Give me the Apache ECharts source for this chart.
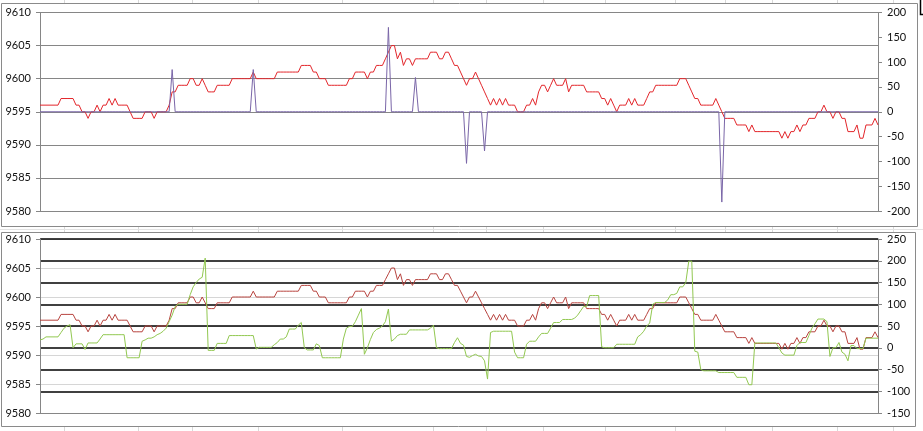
<!DOCTYPE html>
<html>
<head>
<meta charset="utf-8">
<script src="https://cdn.jsdelivr.net/npm/echarts@6/dist/echarts.min.js"></script>
<style>
html,body{margin:0;padding:0;background:#fff;}
#chart{width:923px;height:431px;}
</style>
</head>
<body>
<div id="chart"></div>
<script>
// ---- data ----
const price = [
9596,9596,9596,9596,9596,9596,9596,9597,9597,9597,
9597,9597,9596,9596,9595,9595,9594,9595,9595,9596,
9595,9596,9596,9597,9596,9597,9596,9596,9596,9596,
9595,9594,9594,9594,9594,9595,9595,9595,9594,9595,
9595,9595,9595,9596,9598,9598,9599,9599,9599,9599,
9600,9600,9599,9599,9600,9599,9598,9598,9598,9599,
9599,9599,9599,9599,9600,9600,9600,9600,9600,9600,
9600,9601,9600,9600,9600,9600,9600,9600,9600,9601,
9601,9601,9601,9601,9601,9601,9601,9602,9602,9602,
9602,9601,9601,9600,9600,9600,9599,9599,9599,9599,
9599,9599,9599,9600,9600,9601,9601,9601,9601,9600,
9601,9601,9602,9602,9602,9603,9604,9605,9605,9603,
9604,9602,9603,9603,9602,9603,9603,9603,9603,9603,
9604,9604,9604,9603,9603,9604,9604,9603,9602,9602,
9601,9600,9599,9600,9600,9601,9600,9599,9598,9597,
9596,9597,9596,9597,9596,9597,9596,9596,9596,9595,
9595,9595,9596,9596,9597,9596,9598,9599,9599,9598,
9599,9600,9599,9599,9599,9600,9598,9599,9599,9599,
9599,9599,9598,9598,9598,9598,9598,9597,9597,9596,
9597,9596,9595,9596,9596,9596,9597,9596,9597,9596,
9596,9596,9597,9598,9598,9599,9599,9599,9599,9599,
9599,9599,9599,9600,9600,9600,9599,9598,9597,9597,
9596,9596,9596,9596,9596,9597,9596,9595,9594,9594,
9594,9594,9593,9593,9593,9593,9592,9593,9592,9592,
9592,9592,9592,9592,9592,9592,9592,9591,9592,9591,
9592,9592,9593,9592,9593,9593,9594,9594,9594,9595,
9595,9596,9595,9595,9594,9595,9595,9594,9594,9592,
9592,9592,9593,9591,9591,9593,9593,9593,9594,9593
];
const spikes = [
0,0,0,0,0,0,0,0,0,0, 0,0,0,0,0,0,0,0,0,0,
0,0,0,0,0,0,0,0,0,0, 0,0,0,0,0,0,0,0,0,0,
0,0,0,0,85,0,0,0,0,0, 0,0,0,0,0,0,0,0,0,0,
0,0,0,0,0,0,0,0,0,0, 0,85,0,0,0,0,0,0,0,0,
0,0,0,0,0,0,0,0,0,0, 0,0,0,0,0,0,0,0,0,0,
0,0,0,0,0,0,0,0,0,0, 0,0,0,0,0,0,170,0,0,0,
0,0,0,0,0,69,0,0,0,0, 0,0,0,0,0,0,0,0,0,0,
0,0,-104,0,0,0,0,0,-79,0, 0,0,0,0,0,0,0,0,0,0,
0,0,0,0,0,0,0,0,0,0, 0,0,0,0,0,0,0,0,0,0,
0,0,0,0,0,0,0,0,0,0, 0,0,0,0,0,0,0,0,0,0,
0,0,0,0,0,0,0,0,0,0, 0,0,0,0,0,0,0,0,0,0,
0,0,0,0,0,0,0,-182,0,0, 0,0,0,0,0,0,0,0,0,0,
0,0,0,0,0,0,0,0,0,0, 0,0,0,0,0,0,0,0,0,0,
0,0,0,0,0,0,0,0,0,0, 0,0,0,0,0,0,0,0,0,0
];
const indicator = [
18,20,25,25,25,25,25,35,45,50,
53,0,9,9,9,-4,11,11,11,11,
20,30,30,30,30,30,30,30,30,-23,
-23,-23,-23,-23,15,18,22,22,25,30,
33,38,45,60,75,95,100,100,100,100,
122,140,150,158,162,206,-6,-6,-6,10,
10,10,10,28,28,28,28,28,28,28,
28,28,-3,1,1,1,1,1,7,12,
20,20,25,43,43,43,52,58,0,-5,
-5,-5,9,5,-23,-23,-23,-23,-23,-23,
-23,20,45,49,49,60,75,90,-15,0,
19,35,42,45,50,60,89,15,20,28,
31,31,31,41,41,41,41,41,41,41,
45,52,0,-2,-2,-2,-2,-2,12,23,
10,6,-20,-22,-18,-15,-19,-20,-30,-72,
35,38,38,38,38,38,38,38,-10,-23,
-23,-23,8,15,15,15,25,33,33,33,
45,58,58,58,65,65,65,65,68,75,
85,95,95,120,120,120,120,2,0,0,
0,0,8,8,8,8,8,8,8,25,
30,38,50,57,100,104,104,104,104,110,
122,122,125,140,140,150,199,199,-8,-10,
-50,-53,-53,-53,-53,-53,-57,-57,-57,-57,
-57,-57,-68,-68,-68,-68,-85,-85,11,11,
11,11,11,11,11,11,0,-12,-17,-17,
-17,-17,5,12,12,12,28,45,55,66,
66,66,60,-20,0,0,12,-10,-15,-30,
5,5,-2,-2,-2,22,22,22,22,22
];
const categories = price.map((_, i) => String(i + 1));
const leftTicks = { min: 9580, max: 9610, step: 5 };
const topRightTicks = { min: -200, max: 200, step: 50 };
const bottomRightTicks = { min: -150, max: 250, step: 50 };
const sheetColumns = [64,138,192,258,342,433,486,543,605,675,725,772,837,893];

// ---- chart ----
const chart = echarts.init(document.getElementById('chart'), null, {renderer:'canvas'});
const font = 'Lato, "Liberation Sans", sans-serif';
const axisGray = '#868686';
function xAx(g){
  return {type:'category', gridIndex:g, data:categories, boundaryGap:false,
    axisLine:{show:true,onZero:false,lineStyle:{color:axisGray,width:1}},
    axisTick:{show:false}, axisLabel:{show:false}, splitLine:{show:false}};
}
function yAx(g, t, pos, split){
  return {type:'value', gridIndex:g, position:pos, min:t.min, max:t.max, interval:t.step,
    axisLine:{show:true,lineStyle:{color:axisGray,width:1}},
    axisTick:{show:true,length:4,lineStyle:{color:axisGray}},
    axisLabel:{color:'#111',fontSize:11,fontFamily:font,margin:9,formatter:v => String(v)},
    splitLine:split};
}
const deco = [];
sheetColumns.forEach(x => {
  [[0,3],[227,232],[427,431]].forEach(r => {
    deco.push({type:'line', silent:true, z:-5, shape:{x1:x+0.5,y1:r[0],x2:x+0.5,y2:r[1]}, style:{stroke:'#d9d9d9',lineWidth:1}});
  });
});
deco.push({type:'line', silent:true, shape:{x1:0,y1:229.5,x2:923,y2:229.5}, style:{stroke:'#e3e3e3',lineWidth:1}, z:-5});
deco.push({type:'rect', silent:true, shape:{x:1.5,y:3.5,width:916,height:223}, style:{fill:null,stroke:'#8a8a8a',lineWidth:1}, z:-1});
deco.push({type:'rect', silent:true, shape:{x:1.5,y:232.5,width:914,height:194}, style:{fill:null,stroke:'#8a8a8a',lineWidth:1}, z:-1});
deco.push({type:'polyline', silent:true, shape:{points:[[923,14.5],[920.5,14.5],[920.5,0]]}, style:{fill:null,stroke:'#000',lineWidth:1.5}});

const option = {
  animation:false,
  backgroundColor:'#ffffff',
  graphic: deco,
  grid:[
    {left:40, top:12.5, width:838, height:198.5},
    {left:40, top:239, width:838, height:174}
  ],
  xAxis:[xAx(0), xAx(1)],
  yAxis:[
    yAx(0, leftTicks, 'left', {show:true,lineStyle:{color:axisGray,width:1}}),
    yAx(0, topRightTicks, 'right', {show:false}),
    yAx(1, leftTicks, 'left', {show:true,lineStyle:{color:'#d6d6d6',width:1}}),
    yAx(1, bottomRightTicks, 'right', {show:true,showMinLine:false,lineStyle:{color:'#000',width:1.6}})
  ],
  series:[
    {type:'line', name:'price', xAxisIndex:0, yAxisIndex:0, data:price, showSymbol:false,
      lineStyle:{color:'#e3262b',width:1}, itemStyle:{color:'#e3262b'}, z:3},
    {type:'line', name:'spikes', xAxisIndex:0, yAxisIndex:1, data:spikes, showSymbol:false,
      lineStyle:{color:'#7a66a8',width:1}, itemStyle:{color:'#7a66a8'}, z:4},
    {type:'line', name:'price2', xAxisIndex:1, yAxisIndex:2, data:price, showSymbol:false,
      lineStyle:{color:'#b8443f',width:1}, itemStyle:{color:'#b8443f'}, z:3},
    {type:'line', name:'indicator', xAxisIndex:1, yAxisIndex:3, data:indicator, showSymbol:false,
      lineStyle:{color:'#92c851',width:1}, itemStyle:{color:'#92c851'}, z:4}
  ]
};
chart.setOption(option);
</script>
</body>
</html>
